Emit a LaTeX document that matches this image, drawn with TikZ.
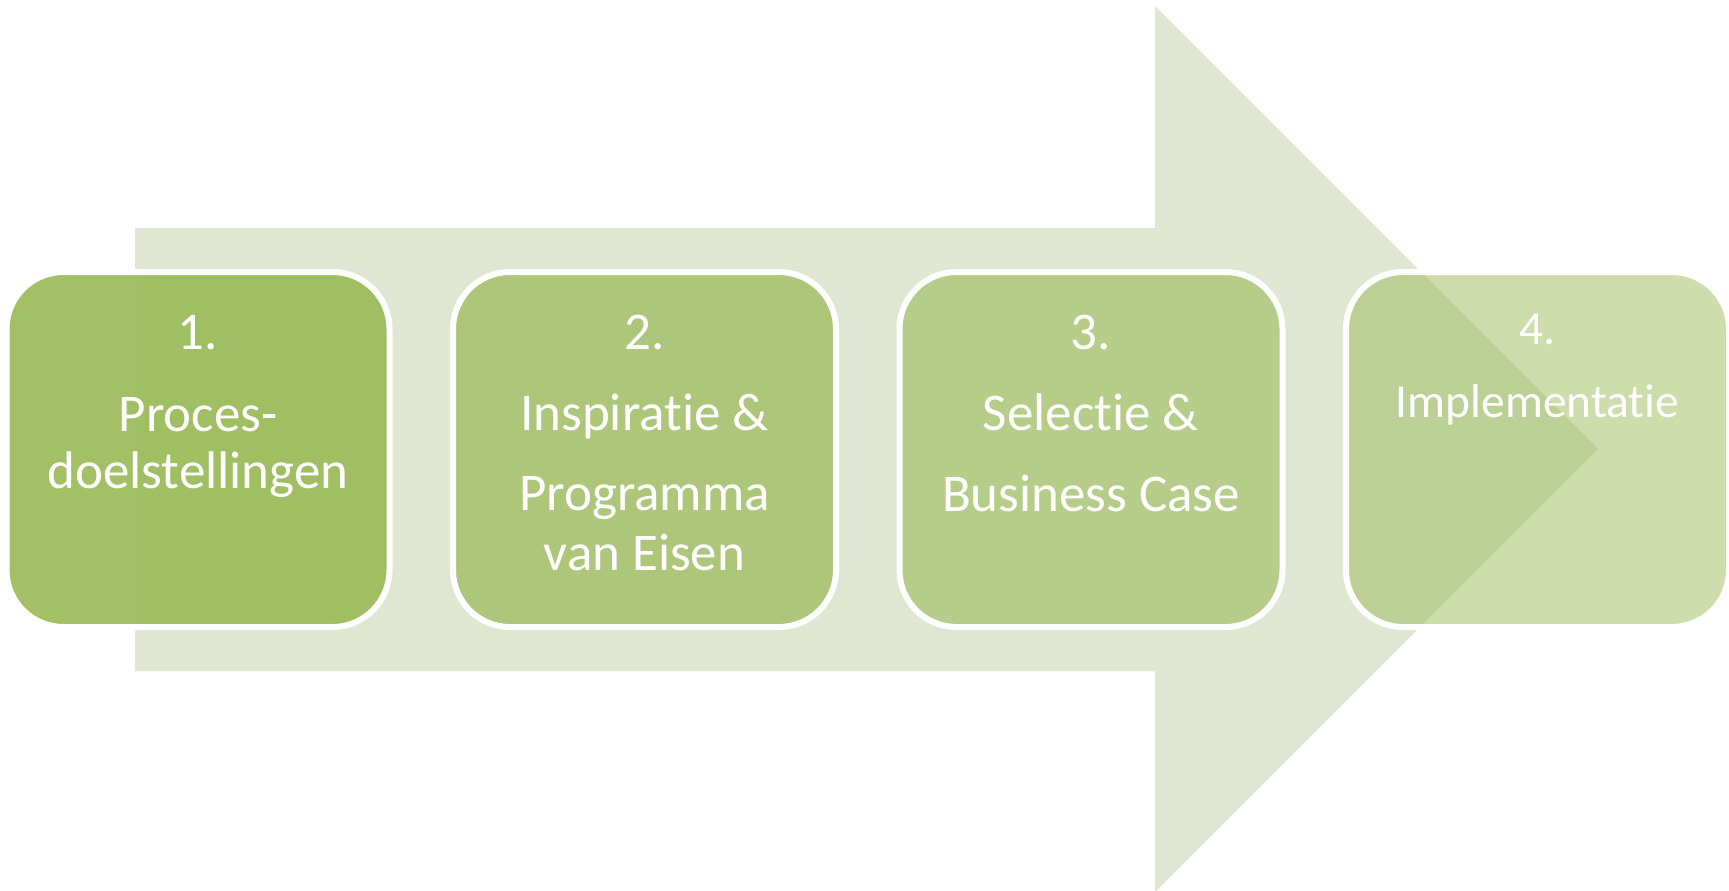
\documentclass[tikz,border=0pt]{standalone}
\usepackage{fontspec}
\setmainfont{Carlito}[Ligatures={NoCommon,NoRare,NoContextual}]
\definecolor{arrowfill}{HTML}{DFE7D3}
\definecolor{olive}{HTML}{9BBB59}
\begin{document}
\begin{tikzpicture}[x=1pt,y=-1pt,
  stepbox/.style={draw=white, line width=6pt, fill=olive, rounded corners=57pt,
    minimum width=383pt, minimum height=355pt, inner sep=0pt},
  lbl/.style={text=white, anchor=base, inner sep=0pt},
  big/.style={lbl, font=\fontsize{53}{61}\selectfont},
  small/.style={lbl, font=\fontsize{47.5}{55}\selectfont}]
\useasboundingbox (0,0) rectangle (1729,891);
% big background arrow
\fill[arrowfill] (135,228) -- (1155,228) -- (1155,6) -- (1598,449)
  -- (1155,892) -- (1155,671) -- (135,671) -- cycle;
% step boxes
\node[stepbox, fill opacity=0.92] (b1) at (198,449.5) {};
\node[stepbox, fill opacity=0.73] (b2) at (644.5,449.5) {};
\node[stepbox, fill opacity=0.60] (b3) at (1091,449.5) {};
\node[stepbox, fill opacity=0.50] (b4) at (1537.5,449.5) {};
% texts
\node[big] (t1a) at (198,349) {1.};
\node[big] (t1b) at (198,431) {Proces-};
\node[big] (t1c) at (198,488) {doelstellingen};
\node[big] (t2a) at (644.5,349) {2.};
\node[big] (t2b) at (644.5,430) {Inspiratie \&};
\node[big] (t2c) at (644.5,510) {Programma};
\node[big] (t2d) at (644.5,570) {van Eisen};
\node[big] (t3a) at (1091,349) {3.};
\node[big] (t3b) at (1091,430) {Selectie \&};
\node[big] (t3c) at (1091,511) {Business Case};
\node[small] (t4a) at (1537.5,344) {4.};
\node[small] (t4b) at (1537.5,417) {Implementatie};
\end{tikzpicture}
\end{document}
